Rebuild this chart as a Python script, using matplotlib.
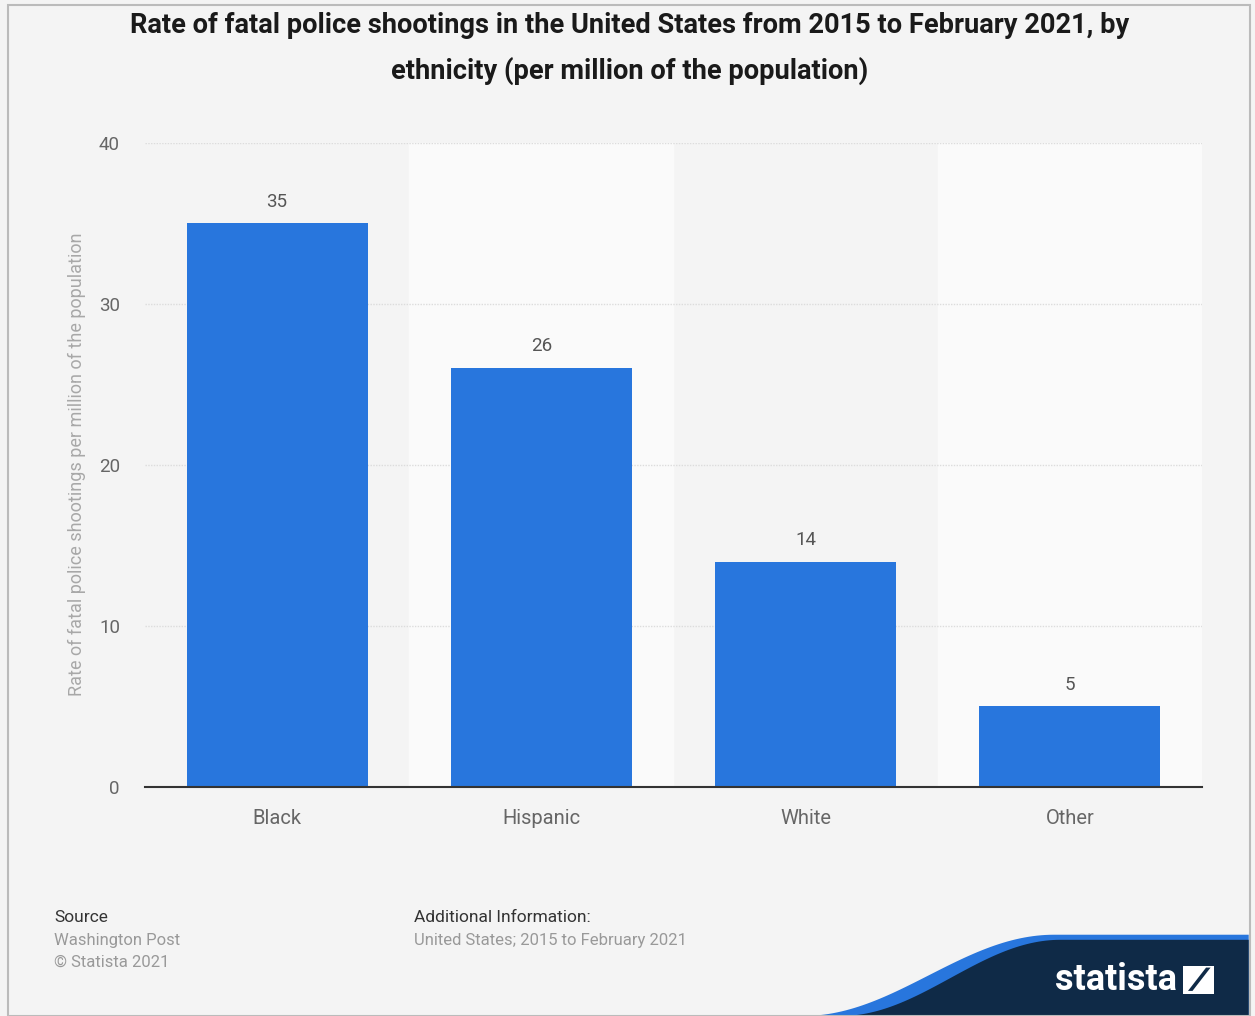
import numpy as np
import matplotlib.pyplot as plt
from matplotlib.patches import Polygon, Rectangle

categories = ["Black", "Hispanic", "White", "Other"]
rates = [35, 26, 14, 5]
y_ticks = [0, 10, 20, 30, 40]

bg = "#f4f4f4"
bar_color = "#2876dd"
navy = "#0f2a47"

plt.rcParams['font.family'] = ['Roboto', 'DejaVu Sans']

fig = plt.figure(figsize=(12.55, 10.16), dpi=100, facecolor=bg)
ax = fig.add_axes([0.1155, 0.2254, 0.8422, 0.6339])
ax.set_facecolor(bg)

x = np.arange(len(categories))
# alternating column bands
for i in x:
    if i % 2 == 1:
        ax.axvspan(i - 0.5, i + 0.5, color="#fafafa", zorder=0)

for t in y_ticks[1:]:
    ax.axhline(t, color="#dcdcdc", lw=1, ls=(0, (1, 1)), zorder=1)

bars = ax.bar(x, rates, width=0.685, color=bar_color, zorder=2)
for xi, v in zip(x, rates):
    ax.text(xi, v + 0.8, str(v), ha="center", va="bottom", fontsize=13.5, color="#555555")

ax.set_xlim(-0.5, len(categories) - 0.5)
ax.set_ylim(0, 40)
ax.set_yticks(y_ticks)
ax.set_yticklabels([str(t) for t in y_ticks], fontsize=13.5, color="#666666")
ax.set_xticks(x)
ax.set_xticklabels(categories, fontsize=14.5, color="#666666")
ax.tick_params(axis="both", length=0)
ax.tick_params(axis="y", pad=18)
ax.tick_params(axis="x", pad=16)
for s in ["top", "right", "left"]:
    ax.spines[s].set_visible(False)
ax.spines["bottom"].set_color("#333333")
ax.spines["bottom"].set_linewidth(1.5)
ax.spines["bottom"].set_zorder(3)

fig.text(0.0614, 0.543, "Rate of fatal police shootings per million of the population",
         rotation=90, ha="center", va="center", fontsize=13, color="#a8a8a8")

fig.text(0.502, 0.975, "Rate of fatal police shootings in the United States from 2015 to February 2021, by",
         ha="center", va="center", fontsize=19.6, fontweight="bold", color="#1a1a1a")
fig.text(0.502, 0.93, "ethnicity (per million of the population)",
         ha="center", va="center", fontsize=19.6, fontweight="bold", color="#1a1a1a")

# footer
fig.text(0.043, 0.097, "Source", fontsize=12.5, color="#333333", va="center")
fig.text(0.043, 0.074, "Washington Post", fontsize=12, color="#999999", va="center")
fig.text(0.043, 0.053, "\u00a9 Statista 2021", fontsize=12, color="#999999", va="center")
fig.text(0.330, 0.097, "Additional Information:", fontsize=12.5, color="#333333", va="center")
fig.text(0.330, 0.074, "United States; 2015 to February 2021", fontsize=12, color="#999999", va="center")

# statista logo wave
wx = np.linspace(0.64, 0.84, 60)
wy = 0.08 * (0.5 - 0.5 * np.cos(np.pi * (wx - 0.64) / 0.2))
blue_pts = list(zip(wx, wy)) + [(0.995, 0.08), (0.995, 0.0), (0.64, 0.0)]
fig.patches.append(Polygon(blue_pts, closed=True, transform=fig.transFigure,
                           facecolor=bar_color, edgecolor="none", zorder=1))
wx2 = np.linspace(0.67, 0.845, 60)
wy2 = 0.075 * (0.5 - 0.5 * np.cos(np.pi * (wx2 - 0.67) / 0.175))
navy_pts = list(zip(wx2, wy2)) + [(0.995, 0.075), (0.995, 0.0), (0.67, 0.0)]
fig.patches.append(Polygon(navy_pts, closed=True, transform=fig.transFigure,
                           facecolor=navy, edgecolor="none", zorder=2))
fig.text(0.889, 0.035, "statista", fontsize=26, fontweight="bold", color="white",
         ha="center", va="center", zorder=3)
# logo icon: white square with a navy diagonal cut
ix, iy, iw, ih = 0.943, 0.022, 0.024, 0.027
fig.patches.append(Rectangle((ix, iy), iw, ih, transform=fig.transFigure,
                             facecolor="white", edgecolor="none", zorder=3))
fig.patches.append(Polygon([(ix + iw * 0.15, iy + ih * 0.1), (ix + iw * 0.75, iy + ih * 0.95),
                            (ix + iw * 0.9, iy + ih * 0.95), (ix + iw * 0.3, iy + ih * 0.1)],
                           closed=True, transform=fig.transFigure, facecolor=navy,
                           edgecolor="none", zorder=4))

# outer frame
fig.patches.append(Rectangle((0.006, 0.0), 0.990, 0.995, transform=fig.transFigure,
                             facecolor="none", edgecolor="#bbbbbb", lw=1.5, zorder=5))

fig.savefig("out.png", dpi=100, facecolor=bg)
